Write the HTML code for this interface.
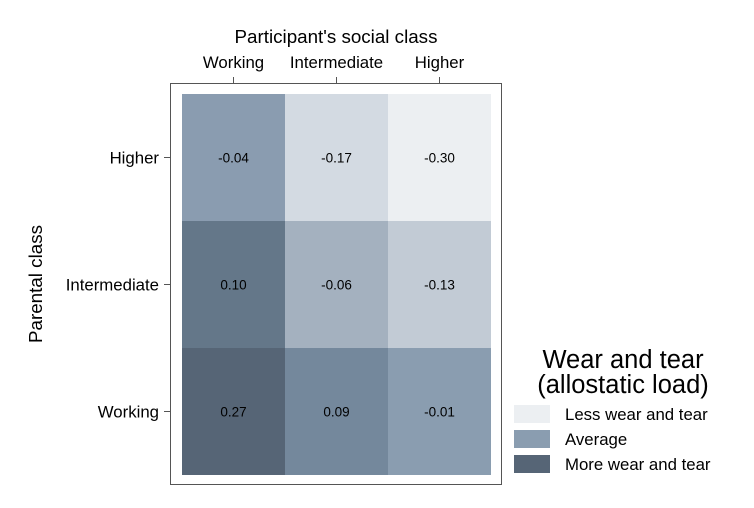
<!DOCTYPE html>
<html><head><meta charset="utf-8"><style>
body{margin:0;background:#fff;font-family:"Liberation Sans",sans-serif}
</style></head><body>
<svg id="c" width="754" height="503" xmlns="http://www.w3.org/2000/svg" font-family="Liberation Sans, sans-serif">
<text x="336" y="43" font-size="18.8" text-anchor="middle">Participant's social class</text>
<text transform="translate(42,284) rotate(-90)" font-size="18.8" text-anchor="middle">Parental class</text>
<rect x="170.5" y="83.5" width="331" height="401" fill="none" stroke="#555" stroke-width="1"/>
<g id="cells"></g>
<g id="axes"></g>
<g>
<text x="623" y="368" font-size="25.5" text-anchor="middle">Wear and tear</text>
<text x="623" y="393" font-size="25.5" text-anchor="middle">(allostatic load)</text>
<rect x="514" y="405" width="36" height="18" fill="#eceff2"/>
<text x="565" y="420" font-size="16.8">Less wear and tear</text>
<rect x="514" y="430" width="36" height="18" fill="#8a9db0"/>
<text x="565" y="445" font-size="16.8">Average</text>
<rect x="514" y="455" width="36" height="18" fill="#566576"/>
<text x="565" y="470" font-size="16.8">More wear and tear</text>
</g>
</svg>
<script>
const cols = ["Working","Intermediate","Higher"];
const rows = ["Higher","Intermediate","Working"];
const vHigher = [-0.04,-0.17,-0.30];
const vIntermediate = [0.10,-0.06,-0.13];
const vWorking = [0.27,0.09,-0.01];
const values = [vHigher,vIntermediate,vWorking];
const ns="http://www.w3.org/2000/svg";
const x0=182,cw=103,y0=94,ch=127;
function xPos(i){return x0+i*cw;}
function yPos(j){return y0+j*ch;}
const stops=[[-0.30,[236,239,242]],[-0.17,[211,218,226]],[-0.06,[164,177,191]],[-0.04,[138,156,176]],[-0.01,[138,157,176]],[0.09,[116,136,156]],[0.10,[100,119,137]],[0.27,[86,101,118]]];
function color(v){
  if(v<=stops[0][0])return 'rgb('+stops[0][1]+')';
  for(let k=1;k<stops.length;k++){if(v<=stops[k][0]){const a=stops[k-1],b=stops[k];const t=(v-a[0])/(b[0]-a[0]);
  return 'rgb('+a[1].map((c,i)=>Math.round(c+(b[1][i]-c)*t)).join(',')+')';}}
  return 'rgb('+stops[stops.length-1][1]+')';
}
const g=document.getElementById('cells');
rows.forEach((r,j)=>cols.forEach((c,i)=>{
  const v=values[j][i];
  const rc=document.createElementNS(ns,'rect');
  rc.setAttribute('x',xPos(i));rc.setAttribute('y',yPos(j));rc.setAttribute('width',cw);rc.setAttribute('height',ch);rc.setAttribute('fill',color(v));
  
  
  g.appendChild(rc);
  const t=document.createElementNS(ns,'text');
  t.setAttribute('x',xPos(i)+cw/2);t.setAttribute('y',yPos(j)+ch/2+5);t.setAttribute('font-size','13.5');t.setAttribute('text-anchor','middle');
  t.textContent=v.toFixed(2);
  
  
  g.appendChild(t);
}));
const ax=document.getElementById('axes');
cols.forEach((c,i)=>{
  const x=xPos(i)+cw/2;
  const l=document.createElementNS(ns,'line');
  l.setAttribute('x1',x);l.setAttribute('x2',x);l.setAttribute('y1',77);l.setAttribute('y2',83);l.setAttribute('stroke','#555');
  
  
  ax.appendChild(l);
  const t=document.createElementNS(ns,'text');
  t.setAttribute('x',x);t.setAttribute('y',68);t.setAttribute('font-size','16.8');t.setAttribute('text-anchor','middle');t.textContent=c;
  
  
  ax.appendChild(t);
});
rows.forEach((r,j)=>{
  const y=yPos(j)+ch/2;
  const l=document.createElementNS(ns,'line');
  l.setAttribute('x1',164);l.setAttribute('x2',170);l.setAttribute('y1',y);l.setAttribute('y2',y);l.setAttribute('stroke','#555');
  
  
  ax.appendChild(l);
  const t=document.createElementNS(ns,'text');
  t.setAttribute('x',159);t.setAttribute('y',y+6);t.setAttribute('font-size','16.8');t.setAttribute('text-anchor','end');t.textContent=r;
  
  
  ax.appendChild(t);
});
</script>
</body></html>
